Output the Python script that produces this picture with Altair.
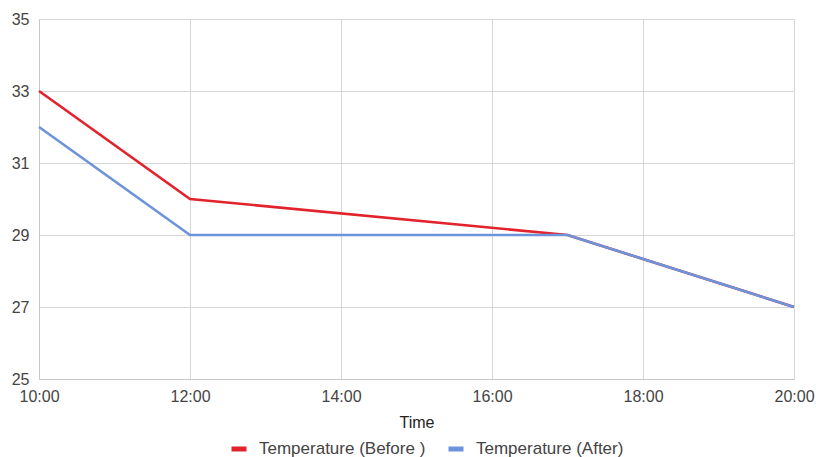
import altair as alt
import pandas as pd

hours = [10, 12, 17, 20]
before = [33, 30, 29, 27]
after = [32, 29, 29, 27]
series = ["Temperature (Before )", "Temperature (After)"]
x_ticks = [10, 12, 14, 16, 18, 20]
y_ticks = [25, 27, 29, 31, 33, 35]

rows = []
for h, v in zip(hours, before):
    rows.append({"Time": h, "Temp": v, "Series": series[0]})
for h, v in zip(hours, after):
    rows.append({"Time": h, "Temp": v, "Series": series[1]})
df = pd.DataFrame(rows)

FONT = "Arial, Liberation Sans, sans-serif"

chart = alt.Chart(df).mark_line(strokeWidth=2.6).encode(
    x=alt.X("Time:Q",
            scale=alt.Scale(domain=[10, 20], nice=False, zero=False),
            axis=alt.Axis(values=x_ticks, labelExpr="datum.value + ':00'",
                          title="Time", ticks=False, labelPadding=9,
                          labelFontSize=16, labelColor="#444",
                          titleFontSize=16, titleFontWeight="normal",
                          titleColor="#222", titlePadding=10,
                          labelFont=FONT, titleFont=FONT,
                          gridColor="#d6d6d6", domainColor="#c8c8c8",
                          labelFlush=False)),
    y=alt.Y("Temp:Q",
            scale=alt.Scale(domain=[25, 35], nice=False, zero=False),
            axis=alt.Axis(values=y_ticks, title=None, ticks=False,
                          labelPadding=10, labelFontSize=16, labelColor="#444",
                          labelFont=FONT, gridColor="#d6d6d6",
                          domainColor="#c8c8c8")),
    color=alt.Color("Series:N",
                    scale=alt.Scale(domain=series, range=["#e2232b", "#6d93da"]),
                    sort=series,
                    legend=alt.Legend(title=None, orient="none", direction="horizontal",
                                      legendX=190, legendY=420,
                                      symbolType="stroke", symbolStrokeWidth=5,
                                      symbolSize=225, labelFontSize=17,
                                      labelColor="#444", labelFont=FONT,
                                      labelOffset=10, labelLimit=400,
                                      columnPadding=12, symbolOffset=0)),
    order=alt.Order("Time:Q"),
).properties(
    width=755, height=360,
    autosize=alt.AutoSizeParams(type="none"),
    padding={"left": 39, "top": 19, "right": 22, "bottom": 78},
).configure_view(stroke="#d6d6d6").configure(background="white")

chart.save("out.html", embed_options={"renderer": "svg", "actions": False})
